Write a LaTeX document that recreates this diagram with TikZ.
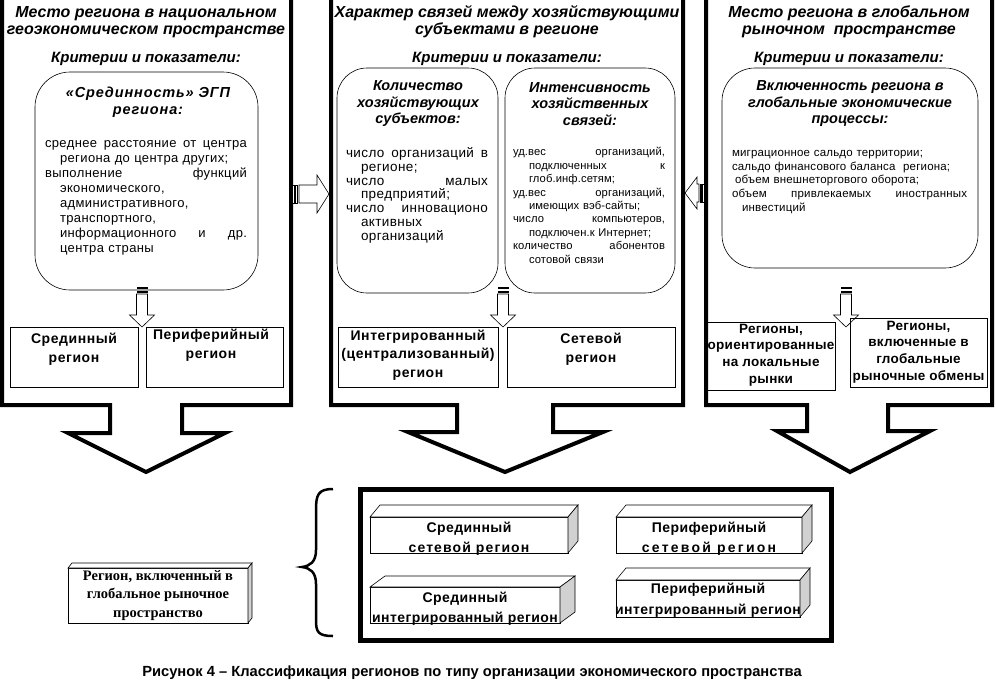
\documentclass[tikz,border=0pt]{standalone}
\usepackage{fontspec}
\setmainfont{Liberation Sans}
\newfontfamily\tnr{Liberation Serif}
\usetikzlibrary{calc}
\definecolor{cubeside}{gray}{0.82}
\newcommand\fsz[2]{\fontsize{#1}{#2}\selectfont}
\newcommand\ls[1]{\addfontfeature{LetterSpace=#1}}
\newcommand\jl[2]{\makebox[#1][s]{\spaceskip=\fontdimen2\font plus 1fil\relax #2}}
\newcommand\cubefaces[3]{%
  \draw[cubeline, fill=white] (#1.north west) -- ++(#2,-#3) -- ([shift={(#2,-#3)}]#1.north east) -- (#1.north east) -- cycle;
  \draw[cubeline, fill=cubeside] (#1.north east) -- ++(#2,-#3) -- ([shift={(#2,-#3)}]#1.south east) -- (#1.south east) -- cycle;}
\begin{document}
\begin{tikzpicture}[x=1pt,y=-1pt,
  every node/.style={inner sep=0pt, outer sep=0pt},
  panel/.style={line width=4pt, line join=miter},
  ttl/.style={font=\bfseries\itshape\fsz{16}{17}, align=center},
  crit/.style={font=\bfseries\itshape\fsz{15}{16}},
  hdr/.style={font=\bfseries\itshape\fsz{14.5}{16.5}, align=center},
  rbox/.style={draw, line width=0.6pt, rounded corners=#1},
  rbox/.default=32pt,
  body/.style={anchor=north west, align=left},
  resbox/.style={draw, line width=0.8pt},
  restxt/.style={font=\bfseries\fsz{14}{18.5}\ls{4}, align=center},
  cube/.style={draw, line width=0.6pt, fill=white},
  cubetxt/.style={align=center, font=\bfseries\fsz{14}{20}\ls{3}},
  cubeline/.style={line width=0.6pt},
  bigbox/.style={draw, line width=5pt},
  sdown/.pic={
    \fill (-5.5,0) rectangle (5.5,2);
    \fill (-5.5,3.5) rectangle (5.5,5.5);
    \draw[fill=white, line width=0.6pt] (-5.5,7) -- (5.5,7) -- (5.5,28) -- (12.5,28) -- (0,40) -- (-12.5,28) -- (-5.5,28) -- cycle;
  },
  sright/.pic={
    \draw[fill=white, line width=0.6pt] (0,-9) rectangle (2,9);
    \draw[fill=white, line width=0.6pt] (3.5,-9) rectangle (5.5,9);
    \draw[fill=white, line width=0.6pt] (7,-9) -- (25,-9) -- (25,-19) -- (37,0) -- (25,19) -- (25,9) -- (7,9) -- cycle;
  },
]
\useasboundingbox (0,0) rectangle (996,689);

% ---------- panels ----------
\draw[panel] (2,-5) -- (291,-5) -- (291,405) -- (182,405) -- (182,433) -- (225,433) -- (146,472) -- (68,433) -- (110,433) -- (110,405) -- (2,405) -- cycle;
\draw[panel] (331,-5) -- (683,-5) -- (683,405) -- (553,405) -- (553,432) -- (603,432) -- (505,472) -- (408,432) -- (457,432) -- (457,405) -- (331,405) -- cycle;
\draw[panel] (706,-5) -- (992,-5) -- (992,405) -- (888,405) -- (888,431) -- (930,431) -- (850,472) -- (777,431) -- (807,431) -- (807,405) -- (706,405) -- cycle;

% arrows between panels
\pic at (292,194) {sright};
\draw[fill=white, line width=0.6pt] (685,193) -- (697,177) -- (697,184) -- (699,184) -- (699,202) -- (697,202) -- (697,209) -- cycle;
\draw[fill=white, line width=0.6pt] (700,184) rectangle (701.5,202);
\draw[fill=white, line width=0.6pt] (702.5,184) rectangle (704,202);

% ---------- left panel ----------
\node[ttl] (t1) at (146,22) {Место региона в национальном\\геоэкономическом пространстве};
\node[crit] (k1) at (146,59) {Критерии и показатели:};
\node[rbox=35pt, minimum width=223, minimum height=218] (b1) at (146.5,181) {};
\node[hdr, font=\bfseries\itshape\fsz{14.5}{16.5}\ls{6}] (h1) at (148,102) {«Срединность» ЭГП\\региона:};
\node[body, text width=202, font=\fsz{13}{15}\ls{3}] (p1) at (45,136.5) {%
\jl{202pt}{\strut среднее расстояние от центра}\\
\hspace*{15pt}региона до центра других;\\
\jl{202pt}{выполнение функций}\\
\hspace*{15pt}экономического,\\
\hspace*{15pt}административного,\\
\hspace*{15pt}транспортного,\\
\hspace*{15pt}\jl{187pt}{информационного и др.}\\
\hspace*{15pt}центра страны};
\pic at (142,287) {sdown};
\node[resbox, minimum width=128, minimum height=60] (r1) at (74,357) {};
\node[restxt] (r1t) at (74,349) {Срединный\\регион};
\node[resbox, minimum width=137, minimum height=60] (r2) at (214.5,357) {};
\node[restxt] (r2t) at (211,345) {Периферийный\\регион};

% ---------- middle panel ----------
\node[ttl] (t2) at (507,22) {Характер связей между хозяйствующими\\субъектами в регионе};
\node[crit] (k2) at (507,59) {Критерии и показатели:};
\node[rbox=30pt, minimum width=161, minimum height=225] (b2) at (417.5,180.5) {};
\node[rbox=30pt, minimum width=170, minimum height=225] (b3) at (590,180.5) {};
\node[hdr] (h2) at (418,104) {Количество\\хозяйствующих\\субъектов:};
\node[hdr] (h3) at (590,104) {Интенсивность\\хозяйственных\\связей:};
\node[body, text width=142, font=\fsz{13.5}{13.8}\ls{3}] (p2) at (346,147.5) {%
\jl{142pt}{\strut число организаций в}\\
\hspace*{15pt}регионе;\\
\jl{142pt}{число малых}\\
\hspace*{15pt}предприятий;\\
\jl{142pt}{число инновационо}\\
\hspace*{15pt}активных\\
\hspace*{15pt}организаций};
\node[body, text width=152, font=\fsz{11.2}{13.4}\ls{1}] (p3) at (513,146.6) {%
\jl{152pt}{\strut уд.вес организаций,}\\
\hspace*{16pt}\jl{136pt}{подключенных к}\\
\hspace*{16pt}глоб.инф.сетям;\\
\jl{152pt}{уд.вес организаций,}\\
\hspace*{16pt}имеющих вэб-сайты;\\
\jl{152pt}{число компьютеров,}\\
\hspace*{16pt}подключен.к Интернет;\\
\jl{152pt}{количество абонентов}\\
\hspace*{16pt}сотовой связи};
\pic at (503,287) {sdown};
\node[resbox, minimum width=160, minimum height=60] (r3) at (418,357) {};
\node[restxt] (r3t) at (418,355) {Интегрированный\\(централизованный)\\регион};
\node[resbox, minimum width=168, minimum height=60] (r4) at (591,357) {};
\node[restxt] (r4t) at (591,349) {Сетевой\\регион};

% ---------- right panel ----------
\node[ttl] (t3) at (849,22) {Место региона в глобальном\\рыночном\ \ пространстве};
\node[crit] (k3) at (849,59) {Критерии и показатели:};
\node[rbox=33pt, minimum width=256, minimum height=200] (b4) at (850,168) {};
\node[hdr] (h4) at (850,104) {Включенность региона в\\глобальные экономические\\процессы:};
\node[body, text width=235, font=\fsz{11.5}{13.7}\ls{1.5}] (p4) at (732,147) {%
\strut миграционное сальдо территории;\\
сальдо финансового баланса\ \ региона;\\
\hspace*{3pt}объем внешнеторгового оборота;\\
\jl{235pt}{объем привлекаемых иностранных}\\
\hspace*{10pt}инвестиций};
\pic at (846,287) {sdown};
\node[resbox, minimum width=128, minimum height=68] (r5) at (771,356) {};
\node[restxt, font=\bfseries\fsz{13.5}{16.7}\ls{2}] (r5t) at (771,355) {Регионы,\\ориентированные\\на локальные\\рынки};
\node[resbox, minimum width=137, minimum height=69] (r6) at (918.5,352.5) {};
\node[restxt, font=\bfseries\fsz{13.5}{16.7}\ls{2}] (r6t) at (918.5,352) {Регионы,\\включенные в\\глобальные\\рыночные обмены};

% ---------- bottom ----------
\node[bigbox, minimum width=471, minimum height=151] (big) at (595.5,564.5) {};
\draw[line width=2.5pt] (333,489) .. controls (318,489) and (316,495) .. (316,510) -- (316,550) .. controls (316,562) and (310,566) .. (302,567) .. controls (310,568) and (316,572) .. (316,584) -- (316,620) .. controls (316,632) and (318,636) .. (333,636);

\node[cube, minimum width=198, minimum height=36] (c1) at (469,535) {};
\cubefaces{c1}{10}{12}
\node[cubetxt] (c1t) at (469,539) {Срединный\\{\ls{8}сетевой регион}};
\node[cube, minimum width=186, minimum height=36] (c2) at (709,535) {};
\cubefaces{c2}{10}{12}
\node[cubetxt] (c2t) at (709,539) {Периферийный\\{\ls{16}сетевой регион}};
\node[cube, minimum width=190, minimum height=36] (c3) at (465,605) {};
\cubefaces{c3}{15}{11}
\node[cubetxt] (c3t) at (465,609) {Срединный\\интегрированный регион};
\node[cube, minimum width=184, minimum height=37] (c4) at (708,598.5) {};
\cubefaces{c4}{10}{12}
\node[cubetxt, font=\bfseries\fsz{14}{21}\ls{3}] (c4t) at (708,600.5) {Периферийный\\интегрированный регион};
\node[cube, align=center, font=\tnr\bfseries\fsz{14.5}{18.5}, minimum width=180, minimum height=55] (c5) at (158,595.5) {Регион, включенный в\\глобальное рыночное\\пространство};
\cubefaces{c5}{4}{5}

\node[font=\bfseries\fsz{14.7}{16}] (cap) at (472,673) {Рисунок 4 – Классификация регионов по типу организации экономического пространства};
\end{tikzpicture}
\end{document}
